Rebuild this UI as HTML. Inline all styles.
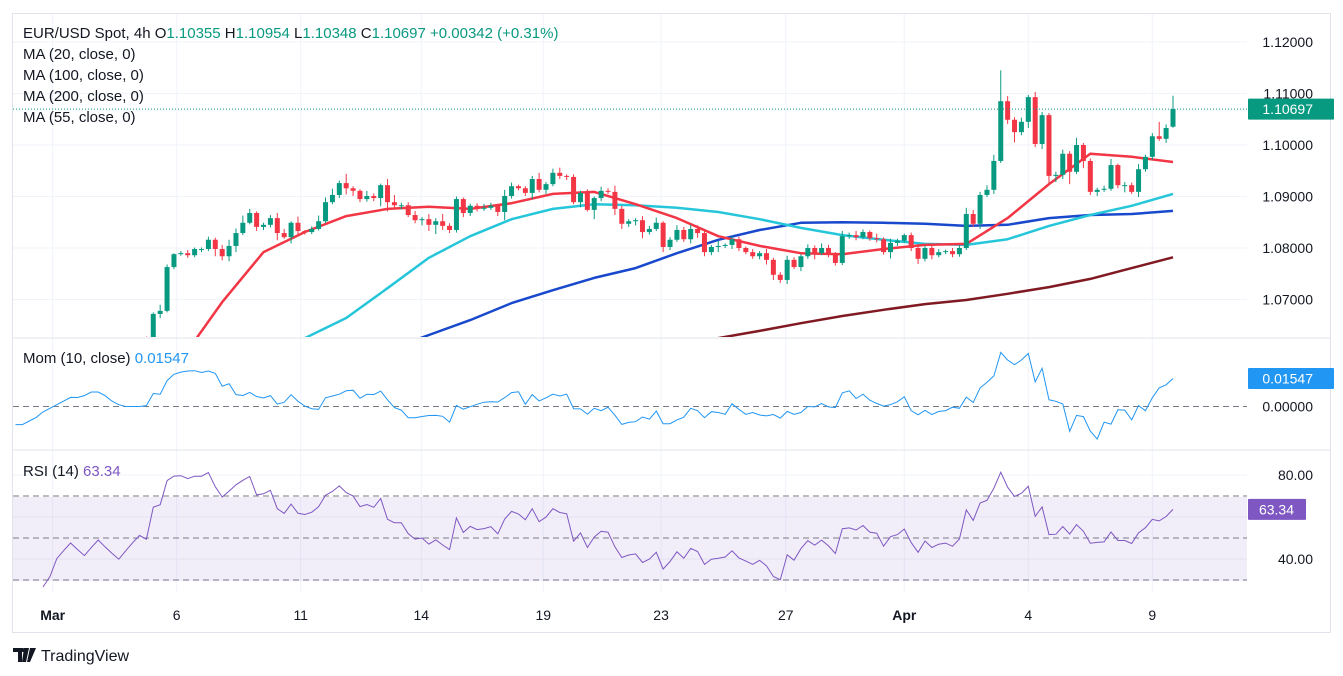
<!DOCTYPE html>
<html><head><meta charset="utf-8">
<style>
html,body{margin:0;padding:0;background:#fff;}
body{width:1343px;height:676px;position:relative;overflow:hidden;font-family:"Liberation Sans",sans-serif;}
svg{position:absolute;left:0;top:0;}
.t{font-family:"Liberation Sans",sans-serif;font-size:15px;fill:#131722;}
.ax{font-family:"Liberation Sans",sans-serif;font-size:14px;fill:#131722;}
</style></head>
<body>
<svg id="chart" width="1343" height="676" viewBox="0 0 1343 676" xmlns="http://www.w3.org/2000/svg">
  <defs>
    <clipPath id="mainClip"><rect x="13" y="15" width="1234" height="322"/></clipPath>
    <clipPath id="momClip"><rect x="13" y="339" width="1234" height="110"/></clipPath>
    <clipPath id="rsiClip"><rect x="13" y="451" width="1234" height="140"/></clipPath>
  </defs>
  <rect x="12.5" y="13.5" width="1318" height="619" fill="#fff" stroke="#e0e3eb"/>
  <g id="grid"></g>
  <line x1="13" y1="338" x2="1330" y2="338" stroke="#e0e3eb"/>
  <line x1="13" y1="450" x2="1330" y2="450" stroke="#e0e3eb"/>
  <rect x="13" y="497" width="1234" height="84" fill="#7e57c2" fill-opacity="0.1"/>
  <g id="rsiLines"></g>
  <line x1="13" y1="406.5" x2="1247" y2="406.5" stroke="#787b86" stroke-dasharray="6,4"/>
  <g id="mas" clip-path="url(#mainClip)"></g>
  <g id="candles" clip-path="url(#mainClip)"></g>
  <g id="mom" clip-path="url(#momClip)"></g>
  <g id="rsi" clip-path="url(#rsiClip)"></g>
  <g id="axes"></g>

  <text x="23" y="38" class="t">EUR/USD Spot, 4h  O<tspan fill="#089981">1.10355</tspan>  H<tspan fill="#089981">1.10954</tspan>  L<tspan fill="#089981">1.10348</tspan>  C<tspan fill="#089981">1.10697</tspan>  <tspan fill="#089981">+0.00342 (+0.31%)</tspan></text>
  <text x="23" y="59" class="t">MA (20, close, 0)</text>
  <text x="23" y="80" class="t">MA (100, close, 0)</text>
  <text x="23" y="101" class="t">MA (200, close, 0)</text>
  <text x="23" y="122" class="t">MA (55, close, 0)</text>
  <text x="23" y="363" class="t">Mom (10, close)  <tspan fill="#2196f3">0.01547</tspan></text>
  <text x="23" y="476" class="t">RSI (14)  <tspan fill="#7e57c2">63.34</tspan></text>

  <g>
    <path d="M13 648h9v14h-4v-10h-5z M24 648h5l-3 14h-4z" fill="#131722"/>
    <circle cx="22.5" cy="650" r="2" fill="#131722"/>
    <path d="M30 648h6l-6 14h-3z" fill="#131722"/>
    <text x="41" y="661" font-family="Liberation Sans, sans-serif" font-size="16" fill="#131722">TradingView</text>
  </g>
</svg>
<script>
// ---------- data ----------
const closes = [
1.064,1.063,1.062,1.061,1.060,1.059,1.059,1.058,1.057,1.056,
1.054,1.053,1.054,1.055,1.057,1.058,1.060,1.061,1.062,1.061,1.060,1.061,1.062,1.061,1.060,1.059,1.060,1.061,1.062,
1.0615,1.0672,1.0678,1.0763,1.0788,1.0790,1.0786,1.0798,1.0798,1.0816,1.0798,1.0784,1.0804,1.0829,1.0849,1.0868,1.0841,1.0845,1.0858,1.0829,1.0821,1.0849,1.0833,1.0831,1.0837,1.0852,1.0889,1.0903,1.0926,1.0916,1.0911,1.0895,1.0901,1.0897,1.0922,1.0889,1.0883,1.0883,1.0864,1.0854,1.0856,
1.0845,1.0852,1.0843,1.0835,1.0895,1.0868,1.0882,1.0876,1.0878,1.0882,
1.0870,1.0901,1.0920,1.0916,1.0907,1.0934,1.0913,1.0924,1.0946,1.0940,
1.0938,1.0889,1.0907,1.0874,1.0897,1.0911,1.0909,1.0876,1.0847,1.0852,
1.0854,1.0831,1.0837,1.0849,1.0802,1.0816,1.0835,1.0817,1.0837,1.0829,
1.0792,1.0802,1.0804,1.0806,1.0817,1.0800,1.0792,1.0784,1.0790,1.0777,
1.0748,1.0738,1.0777,1.0763,1.0784,
1.0800,1.0790,1.0800,1.0788,1.0771,1.0823,1.0825,1.0821,1.0831,1.0819,
1.0817,1.0792,1.0810,1.0814,1.0825,1.0800,1.0779,1.0800,1.0786,1.0792,
1.0794,1.0788,1.0800,1.0866,1.0847,1.0903,1.0913,1.0969,1.1085,1.1049,
1.1025,1.1045,1.1093,1.1002,1.1058,1.0940,1.0942,1.0983,1.0948,1.1000,
1.0969,1.0909,1.0913,1.0915,1.0961,1.0922,1.0922,1.0909,1.0953,1.0977,
1.1017,1.1012,1.1033,1.10697
];
const firstOpen = 1.0645;
const lastOpen = 1.10355;
// wick extension beyond body, in pips
const wickUp = [
5,4,5,4,6,5,4,5,6,5, 4,5,6,5,4,6,5,4,5,6,5,4,6,5,4,5,6,5,4,
8,3,12,5,2,4,6,3,3,6,4,8,12,9,14,8,3,4,6,10,8,3,12,2,5,11,9,12,5,18,4,3,10,5,3,12,14,5,6,8,4,
10,6,14,5,5,3,4,5,8,6,
4,12,7,3,4,6,12,4,8,10,
3,5,4,7,3,8,5,12,6,4,
4,8,6,10,3,5,9,6,8,7,
8,4,10,3,6,5,3,6,4,8,
4,5,8,5,4,
7,5,9,6,4,10,5,8,5,3,
9,4,8,4,3,5,7,5,4,6,
3,6,5,12,8,6,9,12,60,10,
5,8,4,10,6,4,6,8,5,14,
4,5,4,6,12,3,6,5,10,4,
6,28,7,26
];
const wickDn = [
5,4,5,4,6,5,4,5,6,5, 4,5,6,5,4,6,5,4,5,6,5,4,6,5,4,5,6,5,4,
6,5,8,3,4,3,5,4,6,4,14,8,10,12,4,3,8,6,5,14,3,12,6,5,4,3,4,4,6,12,10,6,5,6,16,18,6,8,4,6,10,
12,18,8,6,5,8,6,5,4,4,
8,16,5,4,6,12,5,8,4,6,
6,4,10,3,18,6,4,12,10,6,
8,12,5,4,10,6,4,5,8,9,
8,6,10,4,8,6,4,5,6,9,
10,6,8,4,8,
5,12,4,6,5,4,5,6,4,5,
6,5,12,6,4,6,10,5,8,4,
4,6,5,4,6,10,4,8,4,8,
20,6,12,6,10,16,12,8,24,4,
14,6,8,4,4,6,14,4,10,5,
6,4,8,2
];
// moving averages sampled once per trading day (every 6 bars, ending at last bar)
const ma20  = [1.0194,1.0272,1.0369,1.0466,1.0582,1.0695,1.0792,1.0831,1.0862,1.0876,1.0880,1.0876,1.0887,1.0905,1.0909,1.0885,1.0858,1.0823,1.0804,1.0790,1.0788,1.0798,1.0806,1.0808,1.0858,1.0924,1.0983,1.0977,1.0967];
const ma55  = [1.0291,1.0340,1.0388,1.0437,1.0485,1.0534,1.0582,1.0625,1.0664,1.0722,1.0781,1.0823,1.0856,1.0876,1.0885,1.0883,1.0878,1.0870,1.0856,1.0839,1.0825,1.0816,1.0808,1.0806,1.0817,1.0843,1.0864,1.0882,1.0905];
const ma100 = [1.0322,1.0353,1.0384,1.0415,1.0447,1.0478,1.0509,1.0540,1.0571,1.0602,1.0631,1.0660,1.0693,1.0718,1.0742,1.0761,1.0790,1.0816,1.0835,1.0849,1.0850,1.0849,1.0847,1.0843,1.0845,1.0858,1.0864,1.0866,1.0872];
const ma200 = [1.0394,1.0408,1.0421,1.0435,1.0448,1.0462,1.0476,1.0489,1.0503,1.0516,1.0530,1.0544,1.0557,1.0571,1.0584,1.0598,1.0612,1.0625,1.0639,1.0654,1.0668,1.0680,1.0691,1.0699,1.0711,1.0724,1.0740,1.0761,1.0782];
const priceTicks = [1.12,1.11,1.10,1.09,1.08,1.07];
const dateLabels = ["Mar","6","11","14","19","23","27","Apr","4","9"];
const dateBarIdx = [15.4,33.4,51.4,68.9,86.6,103.7,121.8,139,157,175];
const rsiTicks = [80,40];

// ---------- scales ----------
const NS="http://www.w3.org/2000/svg";
const N = closes.length;
const STEP = 6.89;
const xOf = i => 1173 - (N-1-i)*STEP;
const yP = p => 145 - (p-1.10)*5150;
const yM = m => 406.5 - m*1810;
const yR = r => 475 + (80-r)*2.1;
function el(tag, attrs, parent){const e=document.createElementNS(NS,tag);for(const k in attrs)e.setAttribute(k,attrs[k]);parent.appendChild(e);return e;}

const grid=document.getElementById('grid');
const axes=document.getElementById('axes');
priceTicks.forEach(p=>{
  const y=yP(p);
  const g=el('line',{x1:13,x2:1247,y1:y,y2:y,stroke:'#f0f3fa'},grid);
  
  
  const t=el('text',{x:1313,y:y+5,'text-anchor':'end',class:'ax'},axes);
  
  
  t.textContent=p.toFixed(5);
});
dateLabels.forEach((d,k)=>{
  const x = xOf(dateBarIdx[k]);
  const g=el('line',{x1:x,x2:x,y1:14,y2:592,stroke:'#f0f3fa'},grid);
  
  
  const t=el('text',{x:x,y:620,'text-anchor':'middle',class:'ax','font-weight':(d==="Mar"||d==="Apr")?'bold':'normal'},axes);
  
  
  t.textContent=d;
});
const rl=document.getElementById('rsiLines');
[70,50,30].forEach(v=>{
  const l=el('line',{x1:13,x2:1247,y1:yR(v),y2:yR(v),stroke:'#787b86','stroke-dasharray':'6,4'},rl);
  
  
});
[80,60,40].forEach(v=>{
  const l=el('line',{x1:13,x2:1247,y1:yR(v),y2:yR(v),stroke:'#f0f3fa'},grid);
  
  
});
rsiTicks.forEach(v=>{
  const t=el('text',{x:1313,y:yR(v)+5,'text-anchor':'end',class:'ax'},axes);
  
  
  t.textContent=v.toFixed(2);
});
{
  const t=el('text',{x:1313,y:yM(0)+5,'text-anchor':'end',class:'ax'},axes);
  
  
  t.textContent='0.00000';
}

const mg=document.getElementById('mas');
function drawMA(arr,color,name,w){
  let d='';
  arr.forEach((v,j)=>{const i=N-1-6*(arr.length-1-j);d+=(j?'L':'M')+xOf(i).toFixed(1)+' '+yP(v).toFixed(1);});
  const p=el('path',{d:d,fill:'none',stroke:color,'stroke-width':w,'stroke-linejoin':'round'},mg);
  
  
}
drawMA(ma200,'#801922','ma200-line',2.5);
drawMA(ma100,'#1848cc','ma100-line',2.5);
drawMA(ma55,'#26c6da','ma55-line',2.5);
drawMA(ma20,'#f23645','ma20-line',2.5);

const cg=document.getElementById('candles');
closes.forEach((c,i)=>{
  const o = i===0?firstOpen:(i===N-1?lastOpen:closes[i-1]);
  const up = c>=o;
  const col = up?'#089981':'#f23645';
  const hi = Math.max(o,c)+wickUp[i]*0.0001;
  const lo = Math.min(o,c)-wickDn[i]*0.0001;
  const x=xOf(i);
  const g=el('g',{},cg);
  
  
  el('line',{x1:x,x2:x,y1:yP(hi),y2:yP(lo),stroke:col,'stroke-width':1},g);
  const yt=yP(Math.max(o,c)), yb=yP(Math.min(o,c));
  el('rect',{x:x-2.5,y:yt,width:5,height:Math.max(1,yb-yt),fill:col},g);
});
{
  const y=yP(closes[N-1]);
  const l=el('line',{x1:13,x2:1247,y1:y,y2:y,stroke:'#089981','stroke-dasharray':'1,2'},axes);
  
  
  const r=el('rect',{x:1248,y:y-10.5,width:86,height:21,fill:'#089981',rx:1},axes);
  
  
  const t=el('text',{x:1313,y:y+5,'text-anchor':'end',class:'ax'},axes);
  
  
  t.style.fill='#fff';
  t.textContent=closes[N-1].toFixed(5);
}
const momG=document.getElementById('mom');
let md='';let lastMom=0;
for(let i=10;i<N;i++){const m=closes[i]-closes[i-10];lastMom=m;md+=(i>10?'L':'M')+xOf(i).toFixed(1)+' '+yM(m).toFixed(1);}
{
  const p=el('path',{d:md,fill:'none',stroke:'#2196f3','stroke-width':1},momG);
  
  
  const y=yM(lastMom);
  const r=el('rect',{x:1248,y:y-10.5,width:86,height:21,fill:'#2196f3',rx:1},axes);
  
  
  const t=el('text',{x:1313,y:y+5,'text-anchor':'end',class:'ax'},axes);
  
  
  t.style.fill='#fff';
  t.textContent=lastMom.toFixed(5);
}
const rsiG=document.getElementById('rsi');
let ag=0,al=0;
for(let i=1;i<=14;i++){const d=closes[i]-closes[i-1];if(d>0)ag+=d;else al-=d;}
ag/=14;al/=14;
let rd='';let lastR=0;
for(let i=14;i<N;i++){
  if(i>14){const d=closes[i]-closes[i-1];ag=(ag*13+Math.max(d,0))/14;al=(al*13+Math.max(-d,0))/14;}
  const r=al===0?100:100-100/(1+ag/al);lastR=r;
  rd+=(i>14?'L':'M')+xOf(i).toFixed(1)+' '+yR(r).toFixed(1);
}
{
  const p=el('path',{d:rd,fill:'none',stroke:'#7e57c2','stroke-width':1},rsiG);
  
  
  const y=yR(lastR);
  const r=el('rect',{x:1248,y:y-10.5,width:58,height:21,fill:'#7e57c2',rx:1},axes);
  
  
  const t=el('text',{x:1294,y:y+5,'text-anchor':'end',class:'ax'},axes);
  
  
  t.style.fill='#fff';
  t.textContent='63.34';
}
</script>
</body></html>
